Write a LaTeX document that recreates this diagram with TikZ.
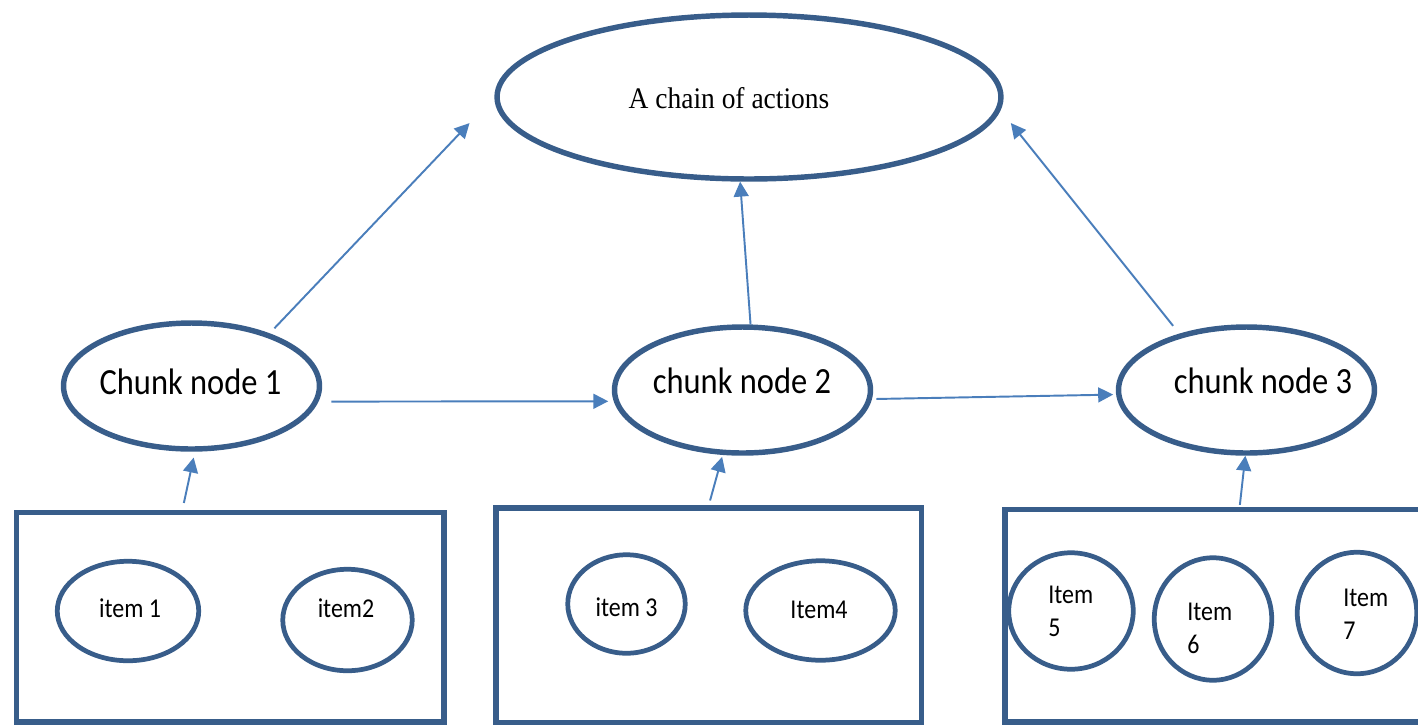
\documentclass[tikz,border=0pt]{standalone}
\usepackage{fontspec}
\usetikzlibrary{shapes.geometric,arrows.meta}
\newfontfamily\calibfont[FakeStretch=0.88]{Carlito}
\newfontfamily\timesfont[FakeStretch=0.92]{Liberation Serif}
\definecolor{shapeblue}{HTML}{385D8A}
\definecolor{arrowblue}{HTML}{4A7EBB}

\begin{document}
\begin{tikzpicture}[x=0.02cm, y=-0.02cm,
    oval/.style={ellipse, draw=shapeblue, line width=3.1pt, inner sep=0pt},
    itemoval/.style={ellipse, draw=shapeblue, line width=2.7pt, inner sep=0pt},
    frame/.style={rectangle, draw=shapeblue, line width=3.1pt, inner sep=0pt},
    link/.style={draw=arrowblue, line width=1.1pt, -{Triangle[length=8.5pt,width=8.5pt]}},
    bigtxt/.style={font=\calibfont\fontsize{21}{25}\selectfont, inner sep=0pt, anchor=base},
    smalltxt/.style={font=\calibfont\fontsize{15.5}{18.8}\selectfont, inner sep=0pt}]
    	% Frame of the page:
    	\useasboundingbox (0,0) rectangle (1418,725);
    	\clip (0,0) rectangle (1418,725);
    	% Top goal:
    	\node[oval, minimum width=10.08cm, minimum height=3.28cm] (chain) at (749,97) {};
    	\node[font=\timesfont\fontsize{17}{20}\selectfont, inner sep=0pt, anchor=base] (chaintext) at (729,108) {A chain of actions};
    	% Chunk nodes:
    	\node[oval, minimum width=5.12cm, minimum height=2.52cm] (c1) at (191.5,386) {};
    	\node[oval, minimum width=5.12cm, minimum height=2.52cm] (c2) at (742.5,390) {};
    	\node[oval, minimum width=5.12cm, minimum height=2.52cm] (c3) at (1246.5,390) {};
    	\node[bigtxt] (c1text) at (190.5,394) {Chunk node 1};
    	\node[bigtxt] (c2text) at (742,393) {chunk node 2};
    	\node[bigtxt] (c3text) at (1263,393) {chunk node 3};
    	% Boxes of items:
    	\node[frame, minimum width=8.55cm, minimum height=4.19cm] (b1) at (230.25,617.25) {};
    	\node[frame, minimum width=8.51cm, minimum height=4.29cm] (b2) at (708.75,615.25) {};
    	\node[frame, minimum width=8.54cm, minimum height=4.25cm] (b3) at (1218.5,615.75) {};
    	\node[itemoval, minimum width=2.83cm, minimum height=1.99cm] (i1) at (128,611) {};
    	\node[itemoval, minimum width=2.59cm, minimum height=2.03cm] (i2) at (347.5,620) {};
    	\node[itemoval, minimum width=2.35cm, minimum height=1.97cm] (i3) at (626.5,604) {};
    	\node[itemoval, minimum width=2.99cm, minimum height=1.99cm] (i4) at (820.5,610.5) {};
    	\node[itemoval, minimum width=2.49cm, minimum height=2.33cm] (i5) at (1071,611) {};
    	\node[itemoval, minimum width=2.35cm, minimum height=2.45cm] (i6) at (1213,619) {};
    	\node[itemoval, minimum width=2.39cm, minimum height=2.43cm] (i7) at (1357,613) {};
    	\node[smalltxt, anchor=base] (i1text) at (130,617) {item 1};
    	\node[smalltxt, anchor=base] (i2text) at (346,617) {item2};
    	\node[smalltxt, anchor=base] (i3text) at (626.5,616) {item 3};
    	\node[smalltxt, anchor=base] (i4text) at (819,618) {Item4};
    	\node[smalltxt, anchor=west, align=left] (i5text) at (1048,611) {Item\\5};
    	\node[smalltxt, anchor=west, align=left] (i6text) at (1187,628) {Item\\6};
    	\node[smalltxt, anchor=west, align=left] (i7text) at (1343,614.5) {Item\\7};
    	% Arrows:
    	\draw[link, shorten <=0.14cm, shorten >=0.72cm] (c1.34) -- (chain.west);
    	\draw[link] (c2.83) -- (chain.264);
    	\draw[link, shorten <=0.2cm, shorten >=0.33cm] (c3.140) -- (chain.-3);
    	\draw[link, shorten <=0.26cm, shorten >=0.11cm] (c1.-7) -- (c2.185);
    	\draw[link, shorten <=0.09cm, shorten >=0.06cm] (c2.-4) -- (c3.182);
    	\draw[link, shorten <=0.14cm, shorten >=0.12cm] (b1.114) -- (c1.-87);
    	\draw[link, shorten <=0.1cm, shorten >=0.04cm] (b2.90) -- (c2.253);
    	\draw[link, shorten <=0.04cm] (b3.79) -- (c3.-91);
\end{tikzpicture}
\end{document}
